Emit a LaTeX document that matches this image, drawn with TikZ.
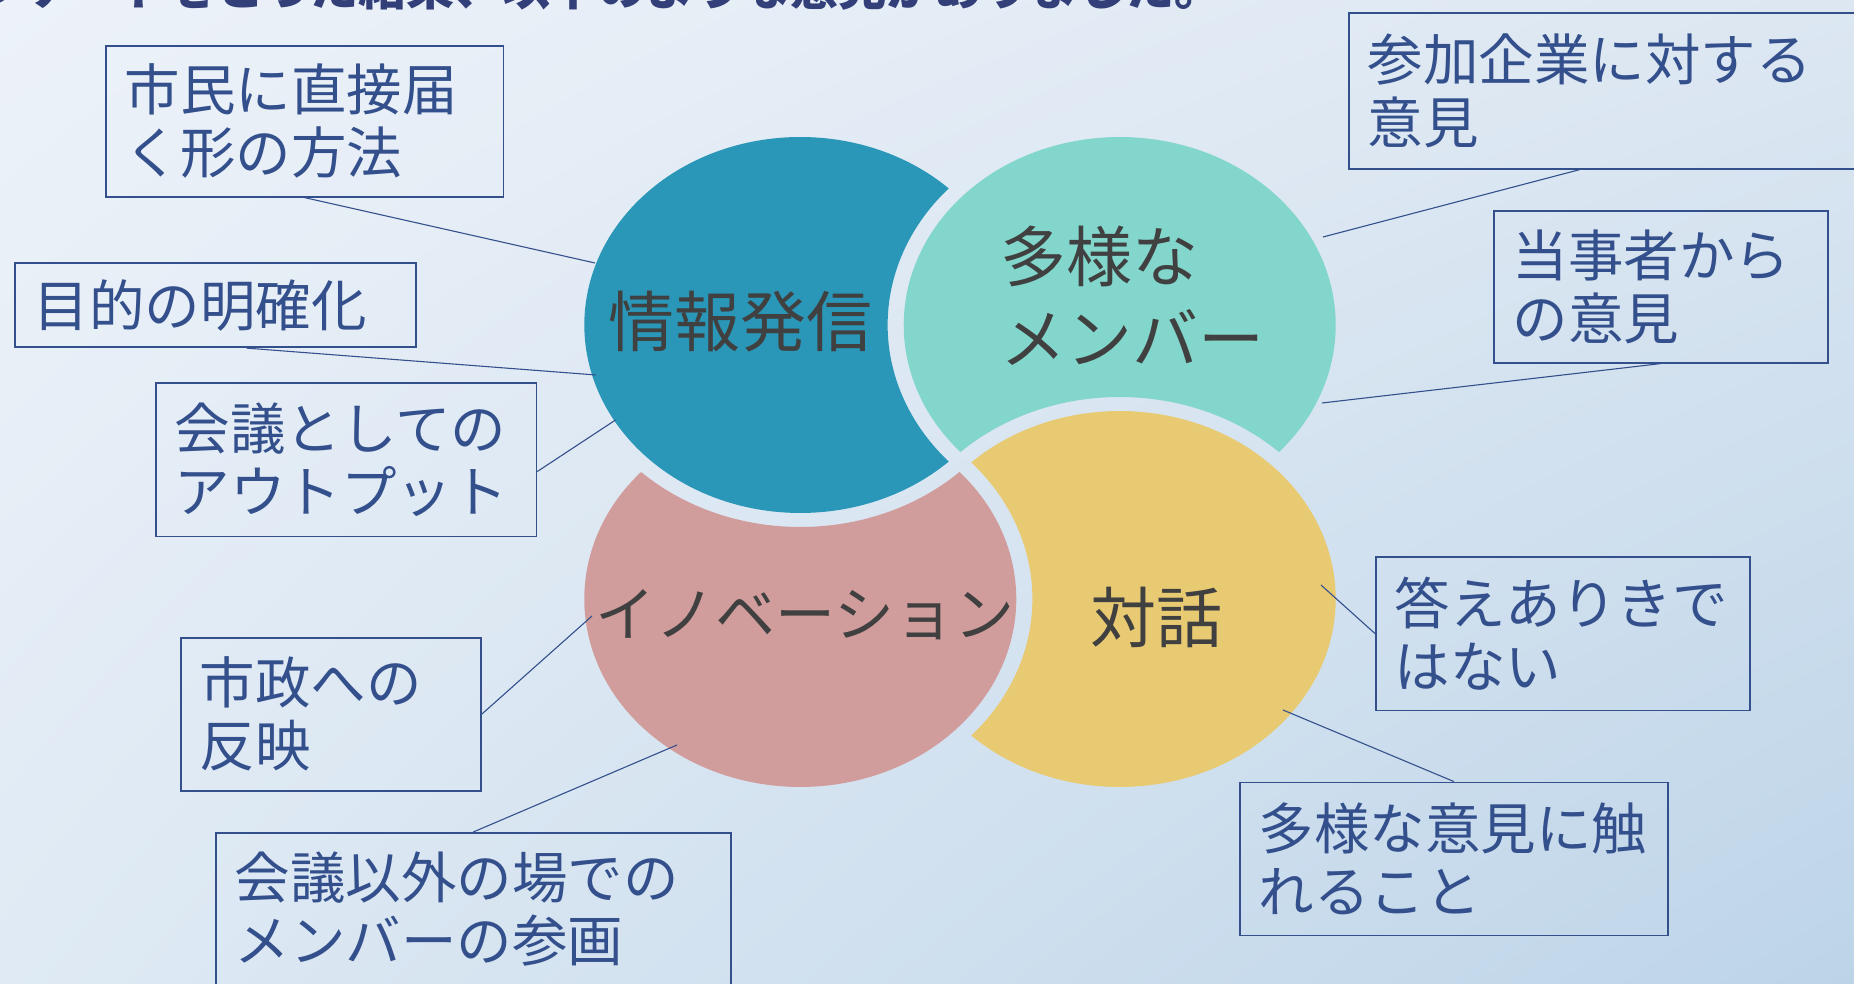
\documentclass[tikz,border=0pt]{standalone}
\usepackage{fontspec}
\usetikzlibrary{shadings}
\newfontfamily\jp{Noto Sans CJK JP}
\definecolor{bgA}{HTML}{EDF2F9}
\definecolor{bgB}{HTML}{DCE7F2}
\definecolor{bgC}{HTML}{DFEAF4}
\definecolor{bgD}{HTML}{BDD4E8}
\definecolor{cblue}{HTML}{2A96B8}
\definecolor{cteal}{HTML}{82D6CC}
\definecolor{cyel}{HTML}{E8CA73}
\definecolor{cpink}{HTML}{D19D9C}
\definecolor{navy}{HTML}{34508C}
\definecolor{dgray}{HTML}{404040}
\definecolor{titlec}{HTML}{333F78}
\begin{document}
\begin{tikzpicture}[x=1pt,y=1pt,
  box/.style={draw=navy, line width=1.6pt, text=navy,
    font=\jp\fontsize{55.5}{63}\selectfont, align=left,
    inner xsep=19pt, inner ysep=0pt, anchor=north west},
  lead/.style={draw=navy, line width=1.1pt},
  ctext/.style={text=dgray, font=\jp\fontsize{66}{82}\selectfont, inner sep=0pt}]
\useasboundingbox (0,0) rectangle (1854,983);
\shade[upper left=bgA, upper right=bgB, lower left=bgC, lower right=bgD]
  (0,0) rectangle (1854,983);

% title (cut at top)
\node[anchor=base west, inner sep=0pt, text=titlec,
  font=\jp\bfseries\fontsize{48}{48}\selectfont] (title) at (-70,977)
  {アンケートをとった結果、以下のような意見がありました。};

% interlocking rings
\begin{scope}[shift={(960,521)}, xscale=1.149]
  \fill[cblue] (-9.82,273.59) arc[start angle=46.60, end angle=313.40, radius=188]
    arc[start angle=222.55, end angle=137.45, radius=202] -- cycle;
  \fill[cteal] (277.58,9.96) arc[start angle=317.49, end angle=582.51, radius=188]
    arc[start angle=133.32, end angle=46.68, radius=202] -- cycle;
  \fill[cyel] (9.82,-273.59) arc[start angle=226.60, end angle=493.40, radius=188]
    arc[start angle=42.55, end angle=-42.55, radius=202] -- cycle;
  \fill[cpink] (-277.58,-9.96) arc[start angle=137.49, end angle=402.51, radius=188]
    arc[start angle=313.32, end angle=226.68, radius=202] -- cycle;
\end{scope}

\node[ctext] (t1) at (740,661) {情報発信};
\node[ctext, align=left, anchor=west] (t2) at (1000,687) {多様な\\メンバー};
\node[ctext, font=\jp\fontsize{60}{60}\selectfont] (t3) at (805,368) {イノベーション};
\node[ctext] (t4) at (1156,366) {対話};

% callout boxes
\node[box, text width=359.5pt, minimum height=151pt] (A) at (105,938) {市民に直接届\\く形の方法};
\node[box, text width=363pt, minimum height=84pt] (B) at (14,720.5) {目的の明確化};
\node[box, text width=342.6pt, minimum height=153.6pt] (C) at (155,601) {会議としての\\アウトプット};
\node[box, text width=262pt, minimum height=153pt] (D) at (180,346) {市政への\\反映};
\node[box, text width=477pt, minimum height=153pt] (E) at (215,151) {会議以外の場での\\メンバーの参画};
\node[box, text width=494pt, minimum height=156pt] (F) at (1348,971) {参加企業に対する\\意見};
\node[box, text width=296pt, minimum height=152pt] (G) at (1493,773) {当事者から\\の意見};
\node[box, text width=336pt, minimum height=153.5pt] (H) at (1375,427) {答えありきで\\はない};
\node[box, text width=390pt, minimum height=153pt] (I) at (1239,201.5) {多様な意見に触\\れること};

% connector ends
\coordinate (eA) at (595,720);
\coordinate (eB) at (596,608);
\coordinate (eC) at (615.5,563);
\coordinate (eD) at (592,367);
\coordinate (eE) at (677,238);
\coordinate (eF) at (1323,746);
\coordinate (eG) at (1322,580);
\coordinate (eH) at (1321,398);
\coordinate (eI) at (1283,273);

\draw[lead] (A.south) -- (eA);
\draw[lead] ([xshift=31pt]B.south) -- (eB);
\draw[lead] ([yshift=-12pt]C.east) -- (eC);
\draw[lead] (D.east) -- (eD);
\draw[lead] (E.north) -- (eE);
\draw[lead] ([xshift=-35pt]F.south) -- (eF);
\draw[lead] (G.south) -- (eG);
\draw[lead] (H.west) -- (eH);
\draw[lead] (I.north) -- (eI);
\end{tikzpicture}
\end{document}
